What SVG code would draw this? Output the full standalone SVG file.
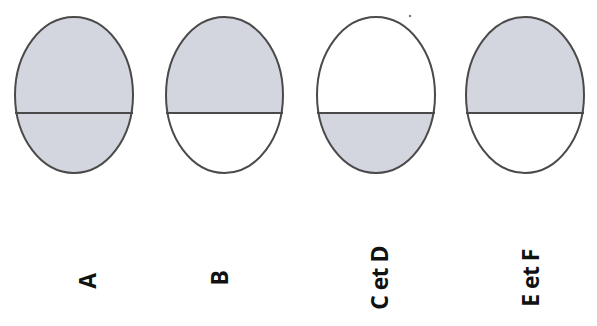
<svg xmlns="http://www.w3.org/2000/svg" width="597" height="326" viewBox="0 0 597 326">
<style>
.out{fill:none;stroke:#4a4a4a;stroke-width:2}
.sh{fill:#d3d6df}
.mid{stroke:#4a4a4a;stroke-width:2}
.lbl{font-family:"Open Sans","Liberation Sans",sans-serif;font-weight:bold;font-size:23px;letter-spacing:-0.6px;fill:#111;text-anchor:middle}
</style>
<defs>
<clipPath id="top"><rect x="0" y="0" width="597" height="113"/></clipPath>
<clipPath id="bot"><rect x="0" y="113" width="597" height="213"/></clipPath>
</defs>
<rect width="597" height="326" fill="#fff"/>
<g id="nodeA">
<ellipse class="sh" cx="74" cy="95" rx="59" ry="78"/>
<ellipse class="out" cx="74" cy="95" rx="59" ry="78"/>
<line class="mid" x1="15" y1="113" x2="133" y2="113"/>
</g>
<g id="nodeB">
<ellipse class="sh" cx="224.5" cy="95" rx="58.5" ry="78" clip-path="url(#top)"/>
<ellipse class="out" cx="224.5" cy="95" rx="58.5" ry="78"/>
<line class="mid" x1="166" y1="113" x2="283" y2="113"/>
</g>
<g id="nodeC">
<ellipse class="sh" cx="376" cy="95" rx="59" ry="78" clip-path="url(#bot)"/>
<ellipse class="out" cx="376" cy="95" rx="59" ry="78"/>
<line class="mid" x1="317" y1="113" x2="435" y2="113"/>
</g>
<g id="nodeE">
<ellipse class="sh" cx="525" cy="95" rx="59" ry="78" clip-path="url(#top)"/>
<ellipse class="out" cx="525" cy="95" rx="59" ry="78"/>
<line class="mid" x1="466" y1="113" x2="584" y2="113"/>
</g>
<circle cx="410" cy="16" r="1.2" fill="#777"/>
<g id="labels">
<text class="lbl" transform="translate(96,281) rotate(-90)">A</text>
<text class="lbl" transform="translate(228,278) rotate(-90)">B</text>
<text class="lbl" transform="translate(388,278) rotate(-90)">C et D</text>
<text class="lbl" transform="translate(539,278) rotate(-90)">E et F</text>
</g>
<g id="connectors"/>
</svg>
